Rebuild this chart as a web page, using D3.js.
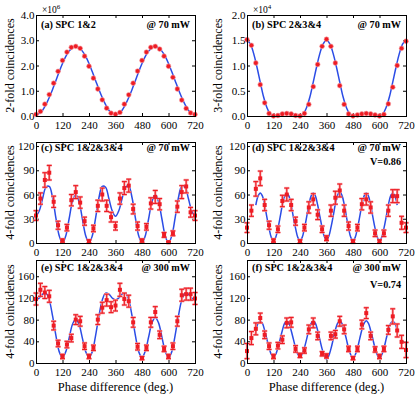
<!DOCTYPE html>
<html>
<head>
<meta charset="utf-8">
<title>Phase scans</title>
<style>
  body { margin: 0; background: #fff; }
  text { font-family: "Liberation Serif", "Times New Roman", serif; }
</style>
</head>
<body>
<div id="chart"></div>
<script src="https://cdn.jsdelivr.net/npm/d3@7"></script>
<script>
var W = 415, H = 397;

// phase settings of the measured points (deg.)
var phase = [0,20,40,60,80,100,120,140,160,180,200,220,240,260,280,300,320,340,360,
  380,400,420,440,460,480,500,520,540,560,580,600,620,640,660,680,700,720];
// phase grid the fitted curves were read at
var fitPhase = [0,15,30,45,60,75,90,105,120,135,150,165,180,195,210,225,240,255,270,285,300,315,330,345,360,
  375,390,405,420,435,450,465,480,495,510,525,540,555,570,585,600,615,630,645,660,675,690,705,720];
var fitPhaseShort = [40,50,60,70,80,90,100,110,120,130,140,150,160,170,180,190,200,210,220,230,240,250,260,270,
  280,290,300,310,320,330,340,350,360,370,380,390,400,410,420,430,440,450,460,470,480,490,500,510,520,530,540,
  550,560,570,580,590,600,610,620,630,640,650,660,670,680];
var xTicks = [0,120,240,360,480,600,720];

// (a) 2-fold, x10^6
var aCounts = [0.06,0.18,0.47,0.85,1.30,1.77,2.20,2.53,2.72,2.76,2.68,2.37,1.97,1.50,1.07,0.64,0.31,0.11,0.07,
  0.14,0.47,0.84,1.30,1.78,2.20,2.53,2.72,2.76,2.65,2.37,1.97,1.53,1.07,0.63,0.30,0.12,0.06];
var aFit = [0.05,0.10,0.23,0.45,0.73,1.05,1.40,1.75,2.08,2.36,2.57,2.70,2.75,2.70,2.57,2.36,2.08,1.75,1.40,1.05,0.73,0.45,0.23,0.10,0.05,
  0.10,0.23,0.45,0.73,1.05,1.40,1.75,2.08,2.36,2.57,2.70,2.75,2.70,2.57,2.36,2.08,1.75,1.40,1.05,0.73,0.45,0.23,0.10,0.05];

// (b) 3-fold, x10^4
var bCounts = [1.51,1.40,1.05,0.62,0.26,0.05,0.00,0.01,0.04,0.05,0.04,0.01,0.00,0.05,0.23,0.58,1.02,1.38,1.52,
  1.38,1.05,0.60,0.23,0.04,0.00,0.02,0.04,0.05,0.04,0.02,0.00,0.03,0.24,0.57,1.00,1.34,1.48];
var bFit = [1.50,1.43,1.24,0.97,0.67,0.38,0.17,0.04,0.00,0.015,0.04,0.055,0.06,0.055,0.04,0.015,0.00,0.04,0.17,0.38,0.67,0.97,1.24,1.43,1.50,
  1.43,1.24,0.97,0.67,0.38,0.17,0.04,0.00,0.015,0.04,0.055,0.06,0.055,0.04,0.015,0.00,0.04,0.17,0.38,0.67,0.97,1.24,1.43,1.50];

// (c) 4-fold @ 70 mW
var cCounts = [34,55,78,87,51,22,3,19,53,63,50,27,2,18,46,60,46,32,21,55,68,71,42,21,3,20,49,57,48,10,1,12,45,63,70,38,34];
var cErr = [6,7,9,9,7,5,2,4,7,8,7,5,2,4,7,8,7,6,5,7,8,8,6,5,2,4,7,8,7,3,1,3,7,8,8,6,6];
var cFit = [33,40,55,69,70,56,31,9,0,9,30,51,60,51,30,9,0,9,31,56,70,69,55,40,33,
  40,55,69,70,56,31,9,0,9,30,51,60,51,30,9,0,9,31,56,70,69,55,40,33];

// (d) 4-fold @ 70 mW, V=0.86
var dCounts = [19,40,67,80,47,22,3,17,52,60,47,27,2,19,44,54,35,17,6,40,56,65,40,21,2,19,48,54,44,12,2,12,40,58,58,25,19];
var dErr = [6,7,9,9,7,5,2,4,7,8,7,5,2,4,7,7,6,4,3,7,8,8,7,5,2,4,7,7,7,4,2,4,7,8,8,8,6];
var dFit = [47,58,62,58,47,32,18,7,3,7,18,32,47,58,62,58,47,32,18,7,3,7,18,32,47,58,62,58,47,33,19,8,4,8,19,33,
  48,59,63,59,48,33,18,7,3,7,18,32,47,58,62,58,47,32,18,7,3,7,18,32,47,58,62,58,47];

// (e) 4-fold @ 300 mW
var eCounts = [118,135,130,123,69,36,12,34,46,80,77,31,12,28,80,102,116,103,106,135,118,114,75,30,9,28,75,94,52,26,12,31,77,125,127,127,119];
var eErr = [11,12,11,11,8,6,4,6,7,9,9,6,4,5,9,10,11,10,10,12,11,11,9,6,3,5,9,10,7,5,4,6,9,11,11,11,11];
var eFit = [116,120,127,129,116,87,51,21,10,21,46,71,81,71,46,21,10,21,51,87,116,129,127,120,116,
  120,127,129,116,87,51,21,10,22,48,74,84,74,48,22,10,21,51,87,116,129,127,120,116];

// (f) 4-fold @ 300 mW, V=0.74
var fCounts = [22,46,63,83,52,31,12,32,43,74,75,26,14,23,62,74,50,17,13,50,53,77,62,26,9,26,71,92,50,25,12,26,61,86,60,39,24];
var fErr = [14,12,11,9,7,6,4,6,7,9,9,6,4,5,8,9,7,4,4,7,7,9,8,5,3,5,8,10,7,5,4,5,8,14,12,12,14];
var fFit = [60,73,77,73,60,44,28,16,11,16,28,44,60,73,77,73,60,44,28,16,12,16,28,44,61,73,78,73,60,43,26,13,7,13,26,43,
  61,73,78,73,60,44,27,15,10,15,27,44,61,73,78,73,60,44,27,15,9,15,27,44,60,73,77,73,60];

var tags = ["(a) SPC 1&2", "(b) SPC 2&3&4", "(c) SPC 1&2&3&4", "(d) SPC 1&2&3&4", "(e) SPC 1&2&3&4", "(f) SPC 1&2&3&4"];
var powers = ["@ 70 mW", "@ 70 mW", "@ 70 mW", "@ 70 mW", "@ 300 mW", "@ 300 mW"];
var visib = ["", "", "", "V=0.86", "", "V=0.74"];
var yTitles = ["2-fold coincidences", "3-fold coincidences", "4-fold coincidences",
  "4-fold coincidences", "4-fold coincidences", "4-fold coincidences"];
var xTitle = "Phase difference (deg.)";

var panels = [
  { counts: aCounts, err: null, fit: aFit, fitX: fitPhase, yMax: 4, yTicks: [0,1,2,3,4], fmt: d3.format(".1f"), exp: "6" },
  { counts: bCounts, err: null, fit: bFit, fitX: fitPhase, yMax: 2, yTicks: [0,0.5,1,1.5,2], fmt: d3.format(".1f"), exp: "4" },
  { counts: cCounts, err: cErr, fit: cFit, fitX: fitPhase, yMax: 125, yTicks: [0,30,60,90,120], fmt: d3.format("d") },
  { counts: dCounts, err: dErr, fit: dFit, fitX: fitPhaseShort, yMax: 125, yTicks: [0,30,60,90,120], fmt: d3.format("d") },
  { counts: eCounts, err: eErr, fit: eFit, fitX: fitPhase, yMax: 190, yTicks: [0,40,80,120,160], fmt: d3.format("d") },
  { counts: fCounts, err: fErr, fit: fFit, fitX: fitPhaseShort, yMax: 190, yTicks: [0,40,80,120,160], fmt: d3.format("d") }
];

var red = "#ee1c24", pink = "#f6a3a6", blue = "#2b4ce6";
var serif = "'Liberation Serif', 'Times New Roman', serif";
var cols = [36, 247], colW = 159;
var rows = [[15, 116], [142, 243], [260, 363]];
var tagDy = [13, 8.5, 11], visDy = [0, 14.5, 16.5];
var titleDx = [-26, -29];

var svg = d3.select("#chart").append("svg")
  .attr("width", W).attr("height", H)
  .style("font-family", serif);
svg.append("rect").attr("width", W).attr("height", H).attr("fill", "#fff");

var line = d3.line().curve(d3.curveCatmullRom.alpha(0.5));

panels.forEach(function(p, i) {
  var r = Math.floor(i / 2);
  var x0 = cols[i % 2], x1 = x0 + colW, y0 = rows[r][0], y1 = rows[r][1];
  var x = d3.scaleLinear().domain([0, 720]).range([x0, x1]);
  var y = d3.scaleLinear().domain([0, p.yMax]).range([y1, y0]);
  var g = svg.append("g");

  function tidy(sel) {
    sel.select(".domain").remove();
    sel.attr("font-family", serif).attr("font-size", 11);
    sel.selectAll(".tick line").attr("stroke", "#000");
    sel.selectAll(".tick text").attr("fill", "#000");
  }

  g.append("g").attr("transform", "translate(0," + y1 + ")")
    .call(d3.axisBottom(x).tickValues(xTicks).tickSize(-3).tickPadding(5)).call(tidy);
  g.append("g").attr("transform", "translate(0," + y0 + ")")
    .call(d3.axisTop(x).tickValues(xTicks).tickSize(-3).tickFormat("")).call(tidy);
  g.append("g").attr("transform", "translate(" + x0 + ",0)")
    .call(d3.axisLeft(y).tickValues(p.yTicks).tickSize(-3).tickPadding(1.5).tickFormat(p.fmt)).call(tidy);
  g.append("g").attr("transform", "translate(" + x1 + ",0)")
    .call(d3.axisRight(y).tickValues(p.yTicks).tickSize(-3).tickFormat("")).call(tidy);

  // fitted curve
  g.append("path")
    .datum(p.fit.map(function(v, k) { return [x(p.fitX[k]), y(v)]; }))
    .attr("d", line)
    .attr("fill", "none").attr("stroke", blue).attr("stroke-width", 1.5);

  // error bars, with a soft halo like the scanned original
  if (p.err) {
    [[pink, 2.4], [red, 1.1]].forEach(function(st) {
      var eb = g.append("g").attr("stroke", st[0]).attr("stroke-width", st[1]);
      p.counts.forEach(function(v, k) {
        var cx = x(phase[k]), lo = y(v - p.err[k]), hi = y(v + p.err[k]);
        eb.append("line").attr("x1", cx).attr("x2", cx).attr("y1", lo).attr("y2", hi);
        eb.append("line").attr("x1", cx - 2.5).attr("x2", cx + 2.5).attr("y1", lo).attr("y2", lo);
        eb.append("line").attr("x1", cx - 2.5).attr("x2", cx + 2.5).attr("y1", hi).attr("y2", hi);
      });
    });
    g.selectAll("rect.pt").data(p.counts).enter().append("rect")
      .attr("x", function(d, k) { return x(phase[k]) - 2; })
      .attr("y", function(d) { return y(d) - 2; })
      .attr("width", 4).attr("height", 4)
      .attr("fill", red);
  } else {
    g.selectAll("circle.pt").data(p.counts).enter().append("circle")
      .attr("cx", function(d, k) { return x(phase[k]); })
      .attr("cy", function(d) { return y(d); })
      .attr("r", 2.4)
      .attr("fill", red).attr("stroke", pink).attr("stroke-width", 0.6);
  }

  // frame
  g.append("rect")
    .attr("x", x0 + 0.5).attr("y", y0 + 0.5)
    .attr("width", colW).attr("height", y1 - y0)
    .attr("fill", "none").attr("stroke", "#000").attr("stroke-width", 1);

  // texts inside
  g.append("text").attr("x", x0 + 5).attr("y", y0 + tagDy[r])
    .attr("font-size", 10.2).attr("font-weight", "bold").text(tags[i]);
  g.append("text").attr("x", x1 - 5).attr("y", y0 + tagDy[r])
    .attr("text-anchor", "end").attr("font-size", 10.2).attr("font-weight", "bold").text(powers[i]);
  if (visib[i]) {
    g.append("text").attr("x", x1 - 5).attr("y", y0 + tagDy[r] + visDy[r])
      .attr("text-anchor", "end").attr("font-size", 10.2).attr("font-weight", "bold").text(visib[i]);
  }
  if (p.exp) {
    var t = g.append("text").attr("x", x0 + 6).attr("y", y0 - 2).attr("font-size", 9.5).text("\u00d710");
    t.append("tspan").attr("dy", -4).attr("font-size", 7).text(p.exp);
  }

  // y title
  g.append("text")
    .attr("transform", "translate(" + (x0 + titleDx[i % 2]) + "," + ((y0 + y1) / 2) + ") rotate(-90)")
    .attr("text-anchor", "middle").attr("dominant-baseline", "central")
    .attr("font-size", 12).text(yTitles[i]);

  if (r === 2) {
    g.append("text").attr("x", (x0 + x1) / 2).attr("y", 391)
      .attr("text-anchor", "middle").attr("font-size", 12.5).text(xTitle);
  }
});
</script>
</body>
</html>
